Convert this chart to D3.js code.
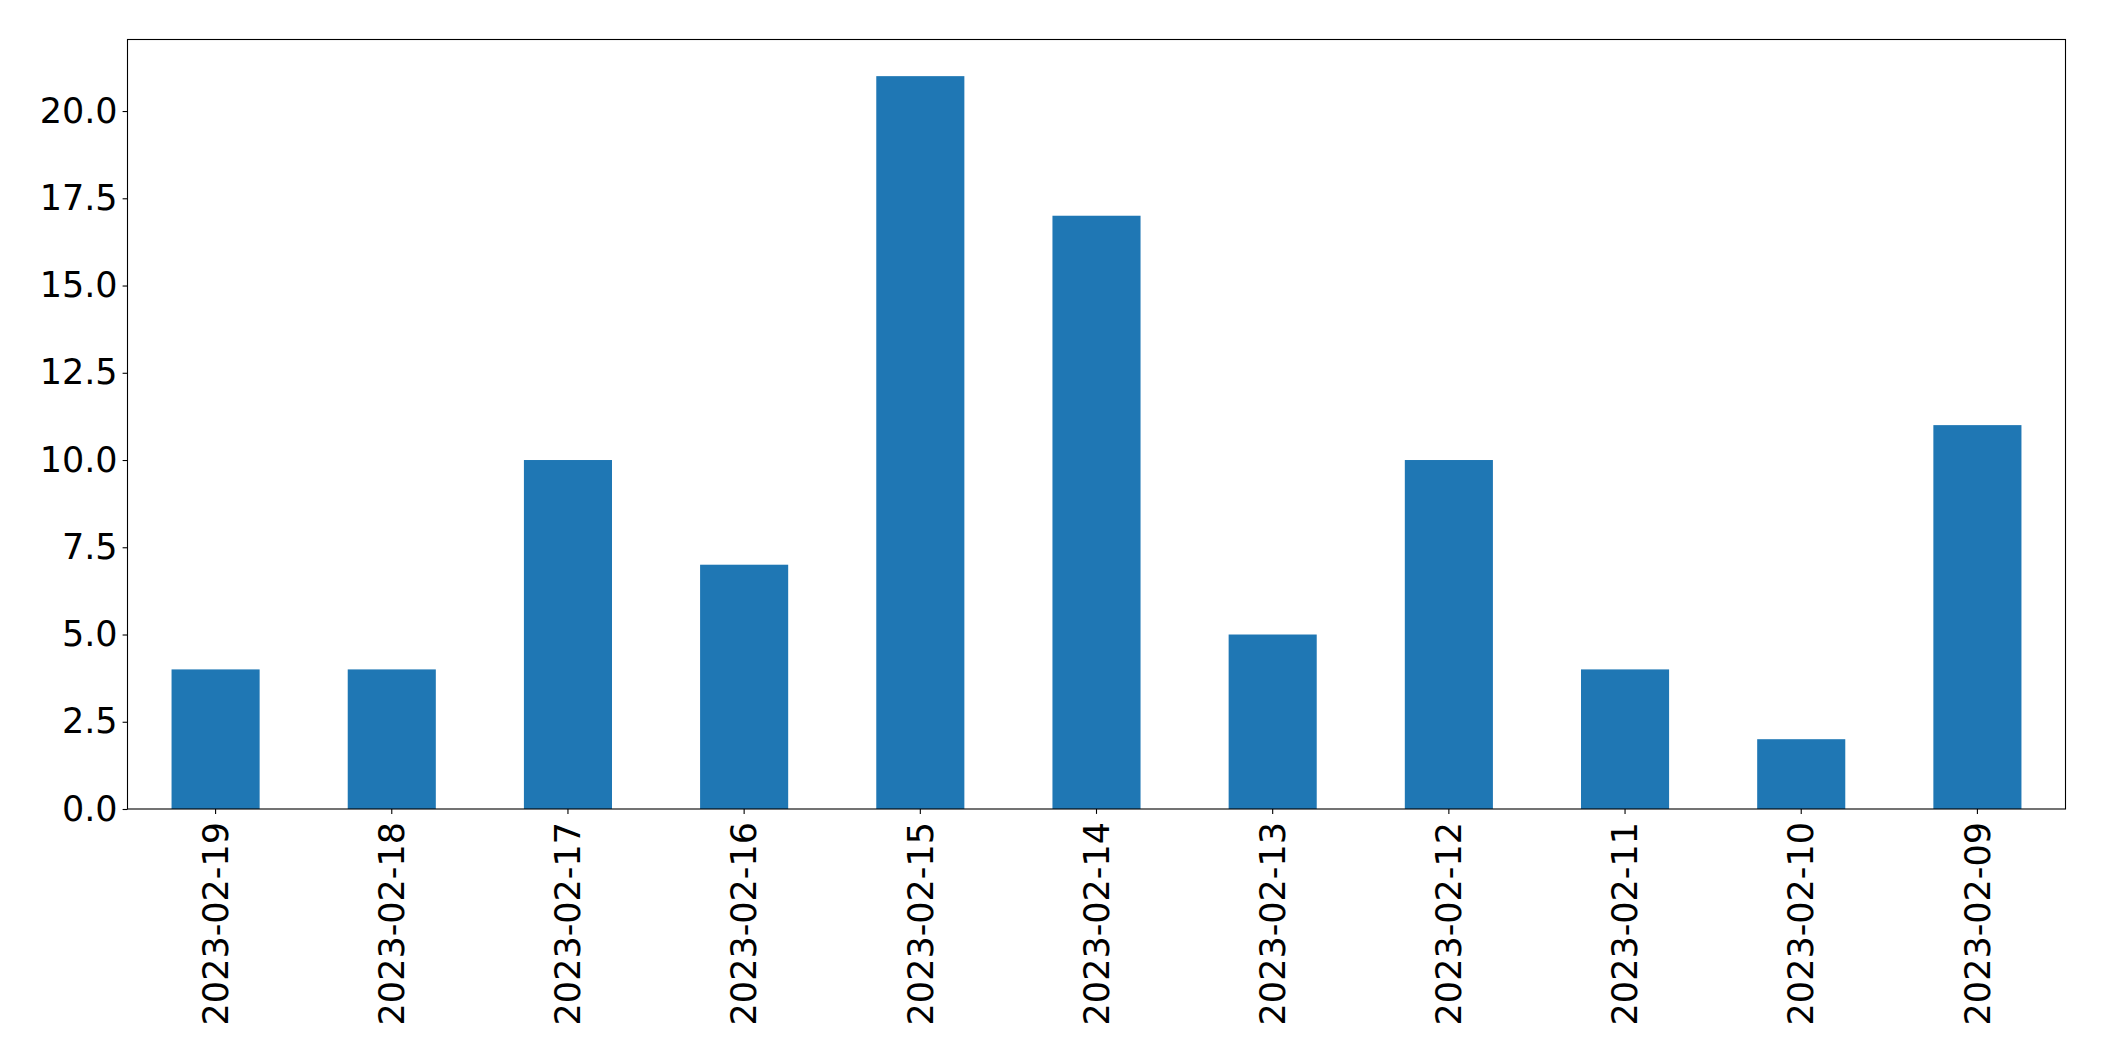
<!DOCTYPE html>
<html><head><meta charset="utf-8">
<script src="https://cdn.jsdelivr.net/npm/d3@7"></script>
<style>html,body{margin:0;padding:0;background:#fff;}svg{display:block;}</style>
</head><body>
<script>
const categories = ["2023-02-19","2023-02-18","2023-02-17","2023-02-16","2023-02-15","2023-02-14","2023-02-13","2023-02-12","2023-02-11","2023-02-10","2023-02-09"];
const values = [4,4,10,7,21,17,5,10,4,2,11];
const yTicks = [0,2.5,5,7.5,10,12.5,15,17.5,20];

const W = 2104, H = 1061;
const m = {left:127.5, right:2065.5, top:39.5, bottom:809};
const svg = d3.select("body").append("svg").attr("width",W).attr("height",H);

const x = d3.scaleBand().domain(categories).range([m.left,m.right]).paddingInner(0.5).paddingOuter(0.25);
const y = d3.scaleLinear().domain([0, d3.max(values)*1.05]).range([m.bottom,m.top]);

svg.append("g").selectAll("rect").data(values).join("rect")
  .attr("x",(d,i)=>x(categories[i]))
  .attr("width",x.bandwidth())
  .attr("y",d=>y(d))
  .attr("height",d=>y(0)-y(d))
  .attr("fill","#1f77b4");

const font = "DejaVu Sans";
const fs = 35;
const yAxis = svg.append("g").attr("transform",`translate(${m.left},0)`)
  .call(d3.axisLeft(y).tickValues(yTicks).tickFormat(d3.format(".1f")).tickSize(4.9).tickPadding(5));
yAxis.select(".domain").remove();
yAxis.selectAll("text").attr("font-family",font).attr("font-size",fs).attr("fill","#000");
yAxis.selectAll("line").attr("stroke","#000").attr("stroke-width",1.1);

const xAxis = svg.append("g").attr("transform",`translate(0,${m.bottom})`)
  .call(d3.axisBottom(x).tickSize(4.9).tickPadding(5));
xAxis.select(".domain").remove();
xAxis.selectAll("line").attr("stroke","#000").attr("stroke-width",1.1);
xAxis.selectAll("text")
  .attr("font-family",font).attr("font-size",fs).attr("fill","#000")
  .attr("y",0).attr("dy","0.35em")
  .attr("transform","translate(0,13) rotate(-90)")
  .attr("x",0)
  .attr("text-anchor","end");

svg.append("rect").attr("x",m.left).attr("y",m.top)
  .attr("width",m.right-m.left).attr("height",m.bottom-m.top)
  .attr("fill","none").attr("stroke","#000").attr("stroke-width",1.1);
</script>
</body></html>
